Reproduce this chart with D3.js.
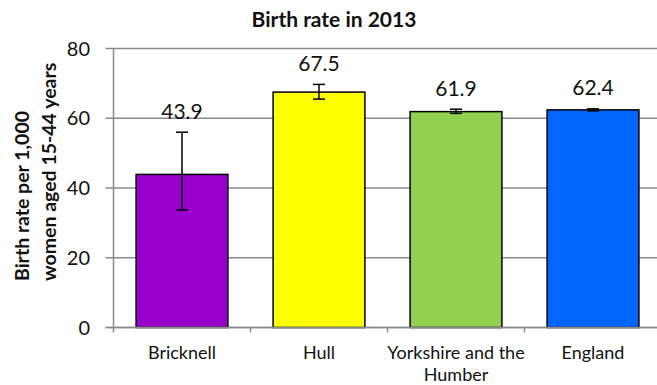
<!DOCTYPE html>
<html>
<head>
<meta charset="utf-8">
<script src="https://cdn.jsdelivr.net/npm/d3@7"></script>
<style>
  body { margin: 0; background: #fff; }
  svg { display: block; font-family: Lato, "Open Sans", sans-serif; }
</style>
</head>
<body>
<svg id="viz" width="657" height="385"></svg>
<script>

// data
var categories = ['Bricknell', 'Hull', 'Yorkshire and the Humber', 'England']
var values = [43.9, 67.5, 61.9, 62.4]
var errLow = [33.7, 65.5, 61.4, 62.1]
var errHigh = [56.0, 69.7, 62.6, 62.7]
var colors = ['#9900CC', '#FFFF00', '#92D050', '#0066FF']
var yTicks = [0, 20, 40, 60, 80]

var width = 657, height = 385
// note: "top" is taken by window.top, so use plot* names
var plotLeft = 113.5, plotTop = 48.5, plotBottom = 327.5
var step = 137

var svg = d3.select('svg#viz')

var x = d3.scaleBand()
    .domain(categories)
    .range([plotLeft, plotLeft + step * categories.length])
    .padding(0)

var y = d3.scaleLinear()
    .domain([0, 80])
    .range([plotBottom, plotTop])

var data = categories.map((c, i) => ({
  name: c, value: values[i], lo: errLow[i], hi: errHigh[i], color: colors[i]
}))

// gridlines
svg.append('g')
  .selectAll('line')
  .data(yTicks)
  .join('line')
    .attr('x1', plotLeft - 8)
    .attr('x2', width)
    .attr('y1', d => y(d))
    .attr('y2', d => y(d))
    .attr('stroke', '#8a8a8a')
    .attr('stroke-width', 1.5)

// y tick labels
svg.append('g')
  .selectAll('text')
  .data(yTicks)
  .join('text')
    .attr('x', 90)
    .attr('y', d => y(d))
    .attr('dy', '0.35em')
    .attr('text-anchor', 'end')
    .style('font-size', '20px')
    .attr('fill', '#111')
    .text(d => d)

// bars
var barInset = 0.165
svg.append('g')
  .selectAll('rect')
  .data(data)
  .join('rect')
    .attr('x', d => x(d.name) + x.bandwidth() * barInset)
    .attr('width', x.bandwidth() * (1 - 2 * barInset))
    .attr('y', d => y(d.value))
    .attr('height', d => y(0) - y(d.value))
    .attr('fill', d => d.color)
    .attr('stroke', '#000')
    .attr('stroke-width', 1.5)

// axis lines on top of bars
svg.append('line')
    .attr('x1', plotLeft).attr('x2', plotLeft)
    .attr('y1', plotTop).attr('y2', plotBottom + 5)
    .attr('stroke', '#8a8a8a').attr('stroke-width', 1.5)

svg.append('line')
    .attr('x1', plotLeft - 8).attr('x2', width)
    .attr('y1', plotBottom).attr('y2', plotBottom)
    .attr('stroke', '#8a8a8a').attr('stroke-width', 1.5)

// category tick marks at band edges
svg.append('g')
  .selectAll('line')
  .data(categories.slice(1))
  .join('line')
    .attr('x1', d => x(d)).attr('x2', d => x(d))
    .attr('y1', plotBottom).attr('y2', plotBottom + 5)
    .attr('stroke', '#8a8a8a').attr('stroke-width', 1.5)

// error bars
var err = svg.append('g')
  .selectAll('g')
  .data(data)
  .join('g')
    .attr('stroke', '#000')
    .attr('stroke-width', 1.5)

err.append('line')
    .attr('x1', d => x(d.name) + x.bandwidth() / 2)
    .attr('x2', d => x(d.name) + x.bandwidth() / 2)
    .attr('y1', d => y(d.lo))
    .attr('y2', d => y(d.hi))

err.selectAll('line.cap')
  .data(d => [d.lo, d.hi].map(v => ({ name: d.name, v: v })))
  .join('line')
    .attr('class', 'cap')
    .attr('x1', d => x(d.name) + x.bandwidth() / 2 - 6)
    .attr('x2', d => x(d.name) + x.bandwidth() / 2 + 6)
    .attr('y1', d => y(d.v))
    .attr('y2', d => y(d.v))

// value labels
svg.append('g')
  .selectAll('text')
  .data(data)
  .join('text')
    .attr('x', d => x(d.name) + x.bandwidth() / 2)
    .attr('y', d => y(d.hi) - 21)
    .attr('dy', '0.35em')
    .attr('text-anchor', 'middle')
    .style('font-size', '21px')
    .attr('fill', '#111')
    .text(d => d.value.toFixed(1))

// category labels, wrapped
function wrap(text, w) {
  text.each(function() {
    var t = d3.select(this)
    var words = t.text().split(/\s+/)
    var line = []
    var xx = t.attr('x')
    var tspan = t.text(null).append('tspan').attr('x', xx).attr('dy', 0)
    words.forEach(word => {
      line.push(word)
      tspan.text(line.join(' '))
      if (tspan.node().getComputedTextLength() > w && line.length > 1) {
        line.pop()
        tspan.text(line.join(' '))
        line = [word]
        tspan = t.append('tspan').attr('x', xx).attr('dy', 22).text(word)
      }
    })
  })
}

svg.append('g')
  .selectAll('text')
  .data(categories)
  .join('text')
    .attr('x', d => x(d) + x.bandwidth() / 2)
    .attr('y', 359)
    .attr('text-anchor', 'middle')
    .style('font-size', '18px')
    .attr('fill', '#111')
    .text(d => d)
    .call(wrap, 150)

// title
svg.append('text')
    .attr('x', 334)
    .attr('y', 27)
    .attr('text-anchor', 'middle')
    .style('font-size', '21px')
    .style('font-weight', 'bold')
    .attr('fill', '#111')
    .text('Birth rate in 2013')

// y axis title, two lines left aligned (bottom when rotated)
var yTitle = svg.append('text')
    .attr('transform', 'translate(0,281) rotate(-90)')
    .attr('text-anchor', 'start')
    .style('font-size', '19.5px')
    .style('font-weight', 'bold')
    .attr('fill', '#111')

yTitle.append('tspan').attr('x', 0).attr('y', 29).text('Birth rate per 1,000')
yTitle.append('tspan').attr('x', 0).attr('y', 56).text('women aged 15-44 years')

</script>
</body>
</html>
